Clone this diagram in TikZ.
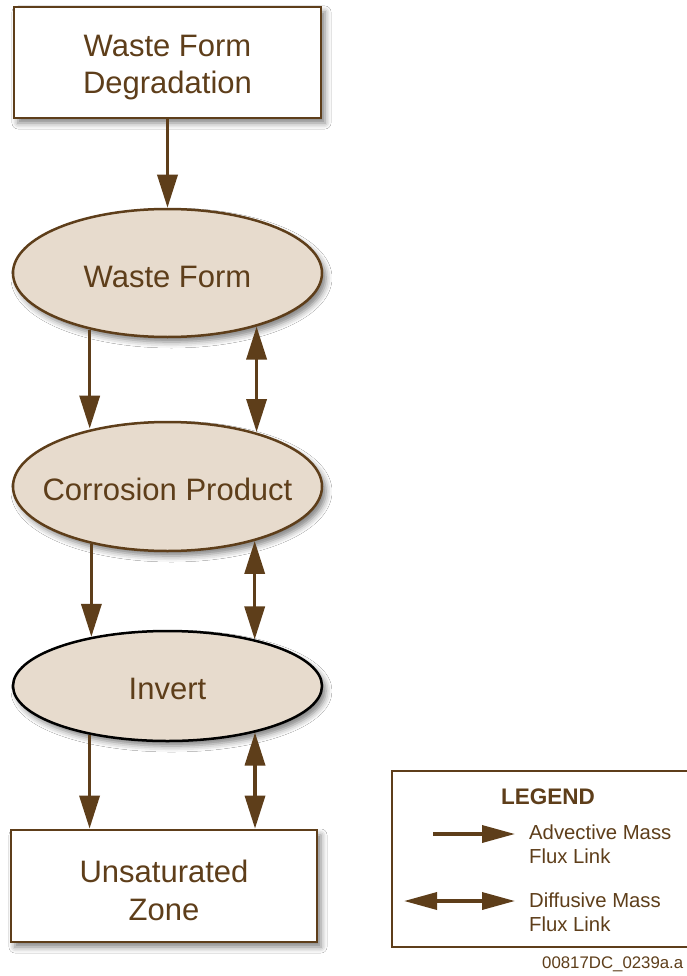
\documentclass[tikz,border=0pt]{standalone}
\usepackage{fontspec}
\setmainfont{Liberation Sans}
\usetikzlibrary{shapes.geometric,arrows.meta,shadows.blur,calc}
\definecolor{brn}{RGB}{94,62,26}
\definecolor{fillc}{RGB}{231,219,205}
\begin{document}
\begin{tikzpicture}[x=1pt,y=-1pt,
  sh/.style={blur shadow={shadow xshift=4pt,shadow yshift=-5pt,shadow blur radius=6pt,shadow opacity=50}},
  box/.style={draw=brn,line width=2.8pt,fill=white,sh,rectangle,inner sep=0pt},
  ell/.style={draw=brn,line width=2.5pt,fill=fillc,sh,ellipse,inner sep=0pt},
  maintext/.style={inner sep=0pt,align=center,text=brn,font=\fontsize{31}{37.5}\selectfont},
  adv/.style={draw=brn,line width=3.5pt,-{Triangle[length=33pt,width=20pt]}},
  dif/.style={draw=brn,line width=3.5pt,{Triangle[length=33pt,width=20pt]}-{Triangle[length=33pt,width=20pt]}},
  legadv/.style={draw=brn,line width=3.5pt,-{Triangle[length=33pt,width=17pt]}},
  legdif/.style={draw=brn,line width=3.5pt,{Triangle[length=33pt,width=17pt]}-{Triangle[length=33pt,width=17pt]}},
  legtext/.style={anchor=west,align=left,inner sep=0pt,text=brn,font=\fontsize{20.3}{24}\selectfont},
]
\useasboundingbox (0,0) rectangle (686,976);
\fill[white] (0,0) rectangle (686,976);

\node[box,minimum width=307pt,minimum height=111pt] (wfd) at (167.5,62.5) {};
\node[ell,minimum width=309pt,minimum height=128pt] (wf) at (167.5,273) {};
\node[ell,minimum width=309pt,minimum height=129pt] (cp) at (167.5,486.5) {};
\node[ell,draw=black,minimum width=309pt,minimum height=110pt] (inv) at (167.5,686) {};
\node[box,minimum width=306pt,minimum height=112pt] (uz) at (164,886) {};

\node[maintext] (wfdt) at ($(wfd.center)+(0,5)$) {Waste Form\\Degradation};
\node[maintext] (wft) at ($(wf.center)+(0,3.5)$) {Waste Form};
\node[maintext] (cpt) at ($(cp.center)+(0,2.5)$) {Corrosion Product};
\node[maintext] (invt) at ($(inv.center)+(0,2.5)$) {Invert};
\node[maintext] (uzt) at ($(uz.center)+(0,4.5)$) {Unsaturated\\Zone};

\draw[adv] (wfd.south) -- (wf.north);
\draw[adv] (wf.216.98) -- (wf.216.98 |- cp.142.82);
\draw[dif] (wf.-31.94) -- (wf.-31.94 |- cp.32.13);
\draw[adv] (cp.217.18) -- (cp.217.18 |- inv.147.1);
\draw[dif] (cp.-32.13) -- (cp.-32.13 |- inv.28.18);
\draw[adv] (inv.212.9) -- (inv.212.9 |- uz.north);
\draw[dif] (inv.-28.18) -- (inv.-28.18 |- uz.north);

\node[draw=brn,line width=2pt,minimum width=330pt,minimum height=176pt,anchor=north west,inner sep=0pt] (leg) at (391,770) {};
\node[text=brn,inner sep=0pt,font=\fontsize{22.5}{27}\selectfont\bfseries] (legt) at (548,797) {LEGEND};
\coordinate (a1) at (433,834);
\coordinate (a2) at (515,834);
\draw[legadv] (a1) -- (a2);
\node[legtext] (advt) at (529,844) {Advective Mass\\Flux Link};
\coordinate (d1) at (404,901);
\coordinate (d2) at (515,901);
\draw[legdif] (d1) -- (d2);
\node[legtext] (dift) at (529,912) {Diffusive Mass\\Flux Link};
\node[anchor=west,inner sep=0pt,text=brn,font=\fontsize{16.8}{20}\selectfont] (cap) at (542,964) {00817DC\_0239a.a};
\end{tikzpicture}
\end{document}
